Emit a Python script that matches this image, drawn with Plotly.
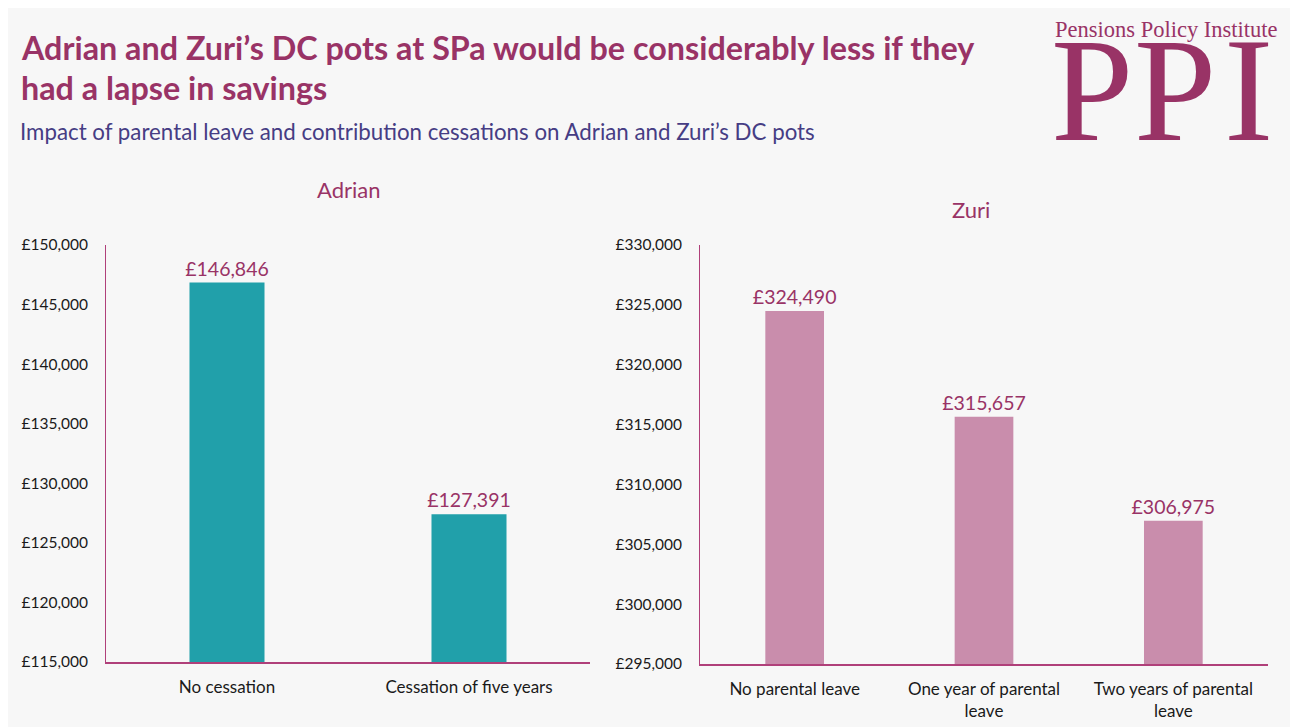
import plotly.graph_objects as go

W, H = 1298, 727

adrian_cats = ["No cessation", "Cessation of five years"]
adrian_vals = [146846, 127391]
zuri_cats = ["No parental leave", "One year of parental<br>leave", "Two years of parental<br>leave"]
zuri_vals = [324490, 315657, 306975]

title_l1 = "Adrian and Zuri\u2019s DC pots at SPa would be considerably less if they"
title_l2 = "had a lapse in savings"
subtitle = "Impact of parental leave and contribution cessations on Adrian and Zuri\u2019s DC pots"

MAROON = "#993366"
SUB = "#463d84"
TEAL = "#21a0aa"
PINK = "#c98dac"
AXIS = "#b0407a"
FONT = "Lato"
OFF = 8  # page body margin

def px(x):
    return (x - OFF) / W

def py(y):
    return 1 - (y - OFF) / H

fig = go.Figure()
for cats, vals, col, xa, ya in [(adrian_cats, adrian_vals, TEAL, "x", "y"),
                                (zuri_cats, zuri_vals, PINK, "x2", "y2")]:
    fig.add_trace(go.Bar(x=cats, y=vals, marker_color=col, marker_line_width=0, xaxis=xa, yaxis=ya,
                         texttemplate="£%{y:,.0f}", textposition="outside", cliponaxis=False,
                         constraintext="none",
                         textfont=dict(color=MAROON, size=19.5, family=FONT), showlegend=False))

yaxis_common = dict(showgrid=False, zeroline=False, showline=True, linecolor=AXIS, linewidth=1,
                    tickprefix="£", tickformat=",.0f", dtick=5000, ticks="", automargin=False,
                    tickfont=dict(size=15.5, color="#1a1a1a", family=FONT), ticklabelstandoff=14)
xaxis_common = dict(showgrid=False, showline=True, linecolor=AXIS, linewidth=1.5, ticks="",
                    automargin=False,
                    tickfont=dict(size=17, color="#1a1a1a", family=FONT), ticklabelstandoff=9)

fig.update_layout(
    template="none",
    width=W, height=H,
    margin=dict(l=0, r=0, t=0, b=0, pad=0, autoexpand=False),
    paper_bgcolor="#f7f7f7", plot_bgcolor="rgba(0,0,0,0)",
    bargap=0.69,
    xaxis=dict(domain=[px(106), px(590)], anchor="y", **xaxis_common),
    yaxis=dict(domain=[py(662), py(245)], range=[115000, 150000], anchor="x", **yaxis_common),
    xaxis2=dict(domain=[px(700), px(1268)], anchor="y2", **xaxis_common),
    yaxis2=dict(domain=[py(664), py(245)], range=[295000, 330000], anchor="x2", **yaxis_common),
)

ann = [
    dict(text=f"<b>{title_l1}</b>", x=px(19), y=py(48), xanchor="left", yanchor="middle",
         font=dict(size=32.3, color=MAROON, family=FONT)),
    dict(text=f"<b>{title_l2}</b>", x=px(19), y=py(87), xanchor="left", yanchor="middle",
         font=dict(size=32.3, color=MAROON, family=FONT)),
    dict(text=subtitle, x=px(18), y=py(131), xanchor="left", yanchor="middle",
         font=dict(size=22.3, color=SUB, family=FONT)),
    dict(text="Adrian", x=px(348), y=py(189), xanchor="center", yanchor="middle",
         font=dict(size=22, color=MAROON, family=FONT)),
    dict(text="Zuri", x=px(971), y=py(209), xanchor="center", yanchor="middle",
         font=dict(size=22, color=MAROON, family=FONT)),
    dict(text="Pensions Policy Institute", x=px(1166), y=py(29), xanchor="center", yanchor="middle",
         font=dict(size=22.5, color=MAROON, family="Liberation Serif")),
    dict(text="P", x=px(1092), y=py(90), xanchor="center", yanchor="middle",
         font=dict(size=148, color=MAROON, family="Liberation Serif")),
    dict(text="P", x=px(1175), y=py(90), xanchor="center", yanchor="middle",
         font=dict(size=148, color=MAROON, family="Liberation Serif")),
    dict(text="I", x=px(1248), y=py(90), xanchor="center", yanchor="middle",
         font=dict(size=148, color=MAROON, family="Liberation Serif")),
]
for a in ann:
    a.update(xref="paper", yref="paper", showarrow=False)
fig.update_layout(annotations=ann)

fig.write_html("out.html")
